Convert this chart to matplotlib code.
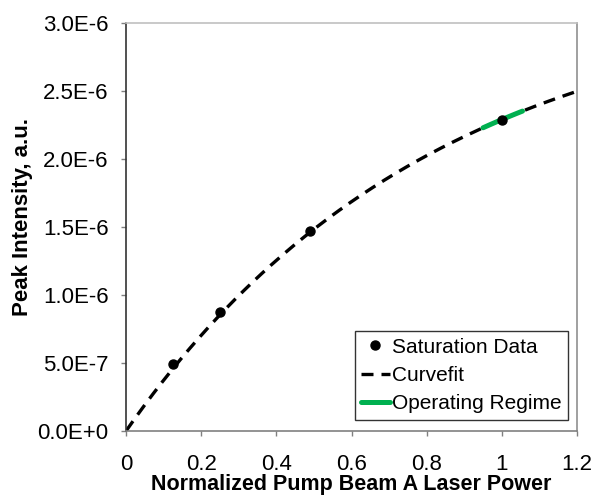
import numpy as np
import matplotlib.pyplot as plt

plt.rcParams['font.family'] = ['Liberation Sans', 'DejaVu Sans']

# measured saturation points
power = [0.125, 0.25, 0.49, 1.0]
intensity = [4.9e-7, 8.75e-7, 1.47e-6, 2.29e-6]

# exponential saturation fit: I = i_sat * (1 - exp(-P / p_sat))
i_sat = 3.25e-6
p_sat = 0.82
fit_range = (0.0, 1.2)

# operating regime around nominal power
regime_range = (0.95, 1.055)

x_ticks = [0, 0.2, 0.4, 0.6, 0.8, 1, 1.2]
x_tick_labels = ['0', '0.2', '0.4', '0.6', '0.8', '1', '1.2']
y_ticks = [0, 5e-7, 1e-6, 1.5e-6, 2e-6, 2.5e-6, 3e-6]
y_tick_labels = ['0.0E+0', '5.0E-7', '1.0E-6', '1.5E-6', '2.0E-6', '2.5E-6', '3.0E-6']


def model(p):
    return i_sat * (1 - np.exp(-p / p_sat))


fig = plt.figure(figsize=(5.99, 4.95), dpi=100)
ax = fig.add_axes([0.2104, 0.1293, 0.7529, 0.8242])

xf = np.linspace(*fit_range, 200)
xr = np.linspace(*regime_range, 30)

ax.plot(xf, model(xf), color='black', lw=2.4, dashes=(3.6, 2.4), label='Curvefit', zorder=2)
ax.plot(xr, model(xr), color='#00B050', lw=3.6, solid_capstyle='round', label='Operating Regime', zorder=3)
ax.plot(power, intensity, 'o', color='black', ms=6.5, label='Saturation Data', zorder=4)

ax.set_xlim(0, 1.2)
ax.set_ylim(0, 3e-6)
ax.set_xticks(x_ticks)
ax.set_xticklabels(x_tick_labels)
ax.set_yticks(y_ticks)
ax.set_yticklabels(y_tick_labels)
ax.tick_params(labelsize=16, direction='out', length=3.5, width=1, color='#808080')
ax.tick_params(axis='x', pad=13)
ax.tick_params(axis='y', pad=9)

ax.spines['left'].set_color('#333333')
ax.spines['bottom'].set_color('#808080')
ax.spines['right'].set_color('#909090')
ax.spines['top'].set_color('#c0c0c0')
for s in ax.spines.values():
    s.set_linewidth(1.2)

ax.set_xlabel('Normalized Pump Beam A Laser Power', fontsize=15.5, fontweight='bold', labelpad=-1)
ax.set_ylabel('Peak Intensity, a.u.', fontsize=16, fontweight='bold')
ax.yaxis.set_label_coords(-0.206, 0.524)

handles, labels = ax.get_legend_handles_labels()
order = [2, 0, 1]
leg = ax.legend([handles[i] for i in order], [labels[i] for i in order],
                loc='lower right', bbox_to_anchor=(0.98, 0.028), fontsize=15,
                frameon=True, fancybox=False, handlelength=1.4, handletextpad=0.1,
                borderpad=0.3, labelspacing=0.45, borderaxespad=0)
leg.get_frame().set_edgecolor('black')
leg.get_frame().set_linewidth(1.0)

fig.savefig('out.png', dpi=100)
